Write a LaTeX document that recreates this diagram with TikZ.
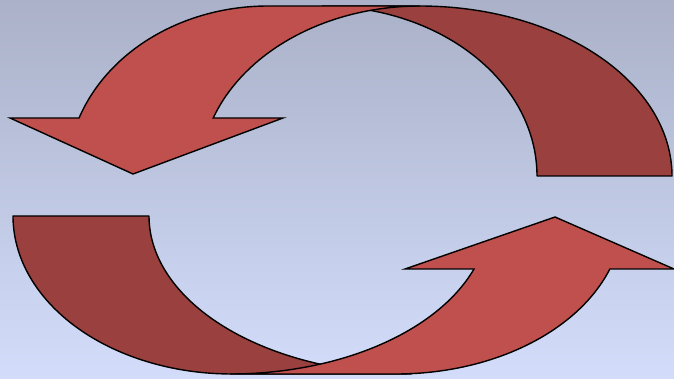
\documentclass[tikz,border=0pt]{standalone}
\definecolor{bgtop}{RGB}{170,177,200}
\definecolor{bgbot}{RGB}{211,221,251}
\definecolor{frontred}{RGB}{192,80,77}
\definecolor{backred}{RGB}{154,64,63}
\begin{document}
\begin{tikzpicture}[x=1pt,y=-1pt,
  band/.style={fill=backred,draw=black,line width=1.4pt,line join=round},
  front/.style={fill=frontred,draw=black,line width=1.4pt,line join=miter}]
\fill[top color=bgtop,bottom color=bgbot] (0,0) rectangle (674,379);
\useasboundingbox (0,0) rectangle (674,379);
% upper curved arrow: back band
\filldraw[band] plot[domain=0:-90,samples=80] ({420+252*cos(\x)},{176+170*sin(\x)})
  -- plot[domain=-90:0,samples=80] ({322+215*cos(\x)},{176+170*sin(\x)}) -- cycle;
% upper curved arrow: front arrow
\filldraw[front] (10,118) -- plot[domain=199.95:270,samples=80] ({268+201*cos(\x)},{176+170*sin(\x)})
  -- plot[domain=270:199.95,samples=80] ({420+220*cos(\x)},{176+170*sin(\x)})
  -- (283,118) -- (133,174) -- cycle;
% lower curved arrow: back band
\filldraw[band] plot[domain=180:90,samples=80] ({232+219*cos(\x)},{216+158*sin(\x)})
  -- plot[domain=90:180,samples=80] ({411+262*cos(\x)},{216+158*sin(\x)}) -- cycle;
% lower curved arrow: front arrow
\filldraw[front] (674,269) -- plot[domain=19.6:90,samples=80] ({396+227*cos(\x)},{216+158*sin(\x)})
  -- plot[domain=90:19.6,samples=80] ({230+259*cos(\x)},{216+158*sin(\x)})
  -- (405,269) -- (555,217) -- cycle;
\end{tikzpicture}
\end{document}
